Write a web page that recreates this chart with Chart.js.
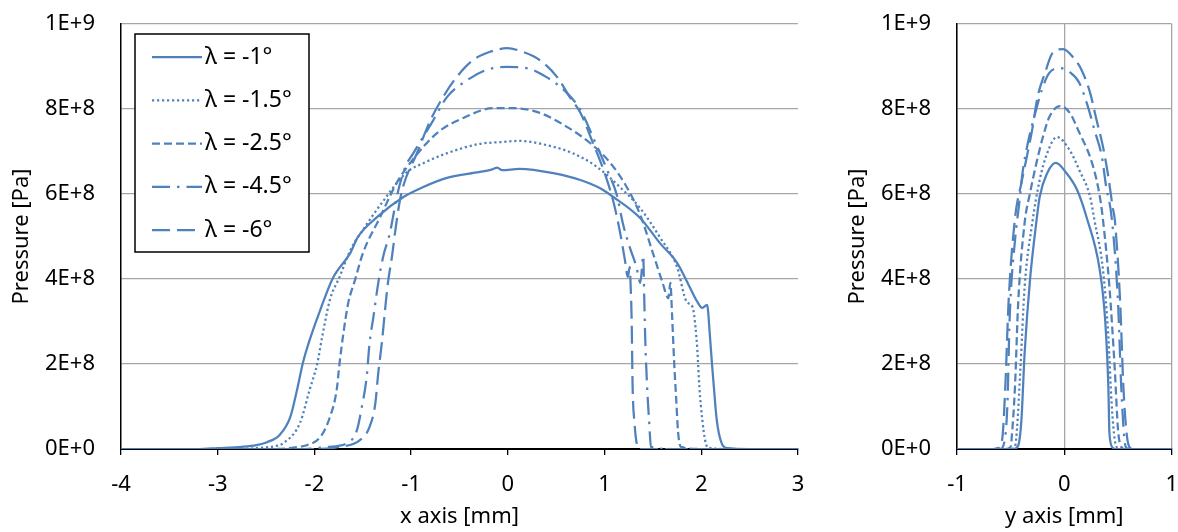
<!DOCTYPE html>
<html>
<head>
<meta charset="utf-8">
<script src="https://cdn.jsdelivr.net/npm/chart.js@4/dist/chart.umd.min.js"></script>
<style>
  body { margin: 0; background: #fff; }
  #wrap { position: relative; width: 1178px; height: 532px; }
  #left { position: absolute; left: 0; top: 0; }
  #right { position: absolute; left: 820px; top: 0; }
</style>
</head>
<body>
<div id="wrap">
  <canvas id="left" width="820" height="532"></canvas>
  <canvas id="right" width="358" height="532"></canvas>
</div>
<script>
// series names (legend)
var seriesNames = ['λ = -1°', 'λ = -1.5°', 'λ = -2.5°', 'λ = -4.5°', 'λ = -6°'];

// tick labels
var xTickLabels = ['-4', '-3', '-2', '-1', '0', '1', '2', '3'];
var yTickLabels = ['-1', '0', '1'];
var pTickLabels = ['0E+0', '2E+8', '4E+8', '6E+8', '8E+8', '1E+9'];

// pressure along x axis [mm] -> [Pa]
var xPos1 = [-4, -3.2, -3.0, -2.75, -2.6, -2.49, -2.36, -2.25, -2.18, -2.12, -2.05, -1.94, -1.81, -1.63, -1.55, -1.35, -1.08, -0.88, -0.63, -0.29, -0.16, -0.11, -0.06, 0.12, 0.47, 0.75, 0.95, 1.09, 1.37, 1.57, 1.75, 1.88, 1.96, 2.01, 2.06, 2.09, 2.11, 2.13, 2.16, 2.21, 2.27, 2.5, 3];
var xPres1 = [0, 0, 0.02e8, 0.05e8, 0.09e8, 0.16e8, 0.33e8, 0.75e8, 1.39e8, 2.02e8, 2.56e8, 3.27e8, 4.02e8, 4.61e8, 4.99e8, 5.46e8, 5.93e8, 6.16e8, 6.38e8, 6.52e8, 6.58e8, 6.62e8, 6.56e8, 6.59e8, 6.49e8, 6.33e8, 6.14e8, 5.93e8, 5.43e8, 4.85e8, 4.38e8, 3.81e8, 3.46e8, 3.32e8, 3.39e8, 2.64e8, 2.02e8, 1.46e8, 0.68e8, 0.14e8, 0.02e8, 0, 0];

var xPos2 = [-4, -2.8, -2.55, -2.4, -2.32, -2.15, -2.05, -1.97, -1.92, -1.84, -1.74, -1.62, -1.50, -1.30, -1.05, -0.85, -0.63, -0.29, -0.08, 0.12, 0.40, 0.67, 0.92, 1.16, 1.37, 1.57, 1.75, 1.85, 1.91, 1.94, 1.96, 1.98, 2.01, 2.04, 2.07, 2.3, 3];
var xPres2 = [0, 0, 0.03e8, 0.07e8, 0.14e8, 0.61e8, 1.39e8, 2.02e8, 2.64e8, 3.51e8, 4.05e8, 4.72e8, 5.15e8, 5.80e8, 6.50e8, 6.75e8, 6.96e8, 7.18e8, 7.22e8, 7.25e8, 7.15e8, 6.96e8, 6.64e8, 6.16e8, 5.66e8, 4.99e8, 4.28e8, 3.46e8, 3.34e8, 2.87e8, 2.30e8, 1.46e8, 0.70e8, 0.20e8, 0.03e8, 0, 0];

var xPos3 = [-4, -2.4, -2.2, -2.08, -1.94, -1.84, -1.77, -1.74, -1.70, -1.65, -1.58, -1.50, -1.32, -1.15, -1.01, -0.73, -0.46, -0.15, 0.05, 0.33, 0.61, 0.85, 1.06, 1.23, 1.37, 1.50, 1.60, 1.66, 1.68, 1.70, 1.72, 1.74, 1.76, 1.79, 2.0, 3];
var xPres3 = [0, 0, 0.04e8, 0.09e8, 0.28e8, 0.75e8, 1.39e8, 2.02e8, 2.73e8, 3.44e8, 3.98e8, 4.60e8, 5.46e8, 6.26e8, 6.73e8, 7.44e8, 7.79e8, 8.02e8, 8.02e8, 7.91e8, 7.58e8, 7.20e8, 6.73e8, 6.16e8, 5.50e8, 4.61e8, 3.91e8, 3.55e8, 3.91e8, 3.04e8, 2.02e8, 1.20e8, 0.40e8, 0.05e8, 0, 0];

var xPos4 = [-4, -2.1, -1.87, -1.66, -1.56, -1.51, -1.46, -1.43, -1.39, -1.34, -1.29, -1.22, -1.14, -1.06, -0.98, -0.77, -0.63, -0.42, -0.22, -0.01, 0.20, 0.40, 0.61, 0.75, 0.88, 1.02, 1.13, 1.19, 1.26, 1.33, 1.37, 1.40, 1.41, 1.42, 1.44, 1.46, 1.48, 1.7, 3];
var xPres4 = [0, 0, 0.05e8, 0.14e8, 0.45e8, 0.99e8, 1.69e8, 2.49e8, 3.11e8, 3.91e8, 4.52e8, 5.08e8, 6.02e8, 6.64e8, 6.95e8, 7.74e8, 8.28e8, 8.68e8, 8.92e8, 8.99e8, 8.96e8, 8.75e8, 8.38e8, 7.98e8, 7.34e8, 6.60e8, 5.95e8, 5.30e8, 4.75e8, 4.28e8, 3.91e8, 4.55e8, 3.58e8, 2.64e8, 1.46e8, 0.68e8, 0.05e8, 0, 0];

var xPos5 = [-4, -2.0, -1.74, -1.53, -1.43, -1.37, -1.34, -1.30, -1.27, -1.24, -1.20, -1.16, -1.12, -1.08, -0.94, -0.80, -0.67, -0.53, -0.36, -0.19, -0.01, 0.16, 0.33, 0.51, 0.64, 0.75, 0.88, 0.99, 1.09, 1.16, 1.21, 1.24, 1.26, 1.27, 1.28, 1.29, 1.31, 1.33, 1.36, 3];
var xPres5 = [0, 0, 0.05e8, 0.21e8, 0.52e8, 1.08e8, 1.79e8, 2.56e8, 3.27e8, 3.91e8, 4.50e8, 5.20e8, 5.80e8, 6.20e8, 6.96e8, 7.74e8, 8.28e8, 8.75e8, 9.15e8, 9.34e8, 9.43e8, 9.34e8, 9.15e8, 8.75e8, 8.28e8, 7.91e8, 7.20e8, 6.56e8, 5.83e8, 5.10e8, 4.45e8, 4.05e8, 4.28e8, 3.81e8, 3.04e8, 1.46e8, 0.60e8, 0.16e8, 0, 0];

// pressure along y axis [mm] -> [Pa]
var yPos1 = [-1, -0.47, -0.43, -0.40, -0.37, -0.32, -0.26, -0.23, -0.16, -0.08, 0.02, 0.12, 0.21, 0.33, 0.38, 0.41, 0.42, 0.45, 0.48, 1];
var yPres1 = [0, 0, 0.08e8, 0.68e8, 2.26e8, 3.98e8, 5.36e8, 5.93e8, 6.49e8, 6.73e8, 6.49e8, 6.09e8, 5.43e8, 4.21e8, 3.04e8, 1.46e8, 0.37e8, 0.03e8, 0, 0];

var yPos2 = [-1, -0.50, -0.46, -0.44, -0.41, -0.37, -0.30, -0.23, -0.16, -0.07, 0.05, 0.14, 0.24, 0.28, 0.36, 0.41, 0.44, 0.47, 0.50, 0.53, 1];
var yPres2 = [0, 0, 0.05e8, 0.52e8, 1.86e8, 3.81e8, 5.30e8, 6.33e8, 6.96e8, 7.34e8, 7.03e8, 6.56e8, 5.93e8, 5.39e8, 4.21e8, 2.64e8, 1.08e8, 0.21e8, 0.02e8, 0, 0];

var yPos3 = [-1, -0.55, -0.50, -0.49, -0.46, -0.43, -0.37, -0.32, -0.26, -0.20, -0.14, -0.04, 0.05, 0.14, 0.24, 0.30, 0.34, 0.36, 0.42, 0.47, 0.50, 0.53, 0.56, 1];
var yPres3 = [0, 0, 0.05e8, 0.28e8, 1.46e8, 3.44e8, 5.32e8, 6.02e8, 6.73e8, 7.34e8, 7.81e8, 8.07e8, 7.91e8, 7.44e8, 6.87e8, 6.33e8, 5.79e8, 5.39e8, 3.81e8, 1.86e8, 0.45e8, 0.05e8, 0, 0];

var yPos4 = [-1, -0.60, -0.56, -0.53, -0.51, -0.46, -0.42, -0.39, -0.34, -0.27, -0.21, -0.14, -0.04, 0.05, 0.14, 0.22, 0.28, 0.35, 0.39, 0.44, 0.50, 0.53, 0.56, 0.58, 0.61, 1];
var yPres4 = [0, 0, 0.15e8, 1.08e8, 3.04e8, 4.90e8, 5.79e8, 6.49e8, 7.20e8, 7.91e8, 8.45e8, 8.85e8, 8.96e8, 8.87e8, 8.61e8, 8.05e8, 7.51e8, 6.87e8, 6.16e8, 5.46e8, 3.44e8, 1.46e8, 0.21e8, 0.02e8, 0, 0];

var yPos5 = [-1, -0.66, -0.62, -0.58, -0.55, -0.52, -0.46, -0.40, -0.35, -0.30, -0.25, -0.18, -0.11, -0.01, 0.08, 0.16, 0.24, 0.30, 0.36, 0.41, 0.45, 0.47, 0.52, 0.55, 0.58, 0.61, 0.64, 1];
var yPres5 = [0, 0, 0.02e8, 0.21e8, 1.46e8, 3.44e8, 5.42e8, 6.26e8, 6.87e8, 7.51e8, 8.28e8, 8.85e8, 9.32e8, 9.41e8, 9.22e8, 8.92e8, 8.38e8, 7.74e8, 7.11e8, 6.40e8, 5.69e8, 5.39e8, 3.44e8, 1.46e8, 0.37e8, 0.03e8, 0, 0];

var lineColor = '#4f81bd';
var gridColor = '#a6a6a6';
// solid, round dot, dash, long dash dot, long dash
var dashes = [[], [2.2, 2.8], [8, 4], [18, 7, 2.5, 7], [18, 7]];

Chart.defaults.font.family = "'Noto Sans', sans-serif";
Chart.defaults.font.size = 22;
Chart.defaults.color = '#000';

function toPoints(xs, ys) {
    var pts = [];
    for (var i = 0; i < xs.length; i++) {
        pts.push({ x: xs[i], y: ys[i] });
    }
    return pts;
}

function makeDatasets(posArrays, presArrays) {
    var sets = [];
    for (var i = 0; i < posArrays.length; i++) {
        sets.push({
            label: seriesNames[i],
            data: toPoints(posArrays[i], presArrays[i]),
            showLine: true,
            borderColor: lineColor,
            borderWidth: 2.25,
            borderDash: dashes[i],
            pointRadius: 0,
            cubicInterpolationMode: 'monotone',
            fill: false
        });
    }
    return sets;
}

// legend drawn inside the plot area, with a black frame
var frameLegend = {
    id: 'frameLegend',
    afterDatasetsDraw: function (chart) {
        var ctx = chart.ctx;
        var a = chart.chartArea;
        var bx = a.left + 14, by = a.top + 10, bw = 174, bh = 218;
        ctx.save();
        ctx.fillStyle = '#fff';
        ctx.fillRect(bx, by, bw, bh);
        ctx.strokeStyle = '#000';
        ctx.lineWidth = 1.5;
        ctx.strokeRect(bx, by, bw, bh);
        ctx.font = "23px 'Noto Sans'";
        ctx.textBaseline = 'middle';
        chart.data.datasets.forEach(function (ds, i) {
            var y = by + 23 + i * 43.3;
            ctx.strokeStyle = ds.borderColor;
            ctx.lineWidth = ds.borderWidth;
            ctx.setLineDash(ds.borderDash);
            ctx.beginPath();
            ctx.moveTo(bx + 17, y);
            ctx.lineTo(bx + 67, y);
            ctx.stroke();
            ctx.setLineDash([]);
            ctx.fillStyle = '#000';
            ctx.fillText(ds.label, bx + 70, y);
        });
        ctx.restore();
    }
};

function pressureAxis() {
    return {
        type: 'linear',
        min: 0,
        max: 1e9,
        ticks: {
            stepSize: 2e8,
            padding: 0,
            callback: function (value, index) { return pTickLabels[index]; }
        },
        // invisible tick marks keep the labels away from the axis line
        grid: { color: gridColor, lineWidth: 1.3, drawTicks: true, tickLength: 26, tickColor: 'rgba(0,0,0,0)' },
        border: { color: '#000', width: 1.5 },
        title: { display: true, text: 'Pressure [Pa]', padding: { top: 9, bottom: 9 } },
        afterFit: function (scale) { scale.width = 121; }
    };
}

function posAxis(min, max, labels, title, gridOnArea) {
    return {
        type: 'linear',
        min: min,
        max: max,
        ticks: {
            stepSize: 1,
            padding: 0,
            maxRotation: 0,
            font: { size: 22, lineHeight: 2.72 },
            callback: function (value, index) { return labels[index]; }
        },
        grid: { drawOnChartArea: gridOnArea, color: gridOnArea ? gridColor : '#000', lineWidth: 1.3, tickLength: 6, tickColor: '#000' },
        border: { color: '#000', width: 2 },
        title: { display: true, text: title, padding: { top: 2, bottom: 2 } },
        afterFit: function (scale) { scale.height = 83; }
    };
}

var leftChart = new Chart(document.getElementById('left'), {
    type: 'scatter',
    data: { datasets: makeDatasets([xPos1, xPos2, xPos3, xPos4, xPos5], [xPres1, xPres2, xPres3, xPres4, xPres5]) },
    options: {
        responsive: false,
        animation: false,
        layout: { padding: { left: 0, right: 22, top: 24, bottom: 0 } },
        plugins: { legend: { display: false }, tooltip: { enabled: false } },
        scales: {
            x: posAxis(-4, 3, xTickLabels, 'x axis [mm]', false),
            y: pressureAxis()
        }
    },
    plugins: [frameLegend]
});

var rightChart = new Chart(document.getElementById('right'), {
    type: 'scatter',
    data: { datasets: makeDatasets([yPos1, yPos2, yPos3, yPos4, yPos5], [yPres1, yPres2, yPres3, yPres4, yPres5]) },
    options: {
        responsive: false,
        animation: false,
        layout: { padding: { left: 16, right: 6, top: 24, bottom: 0 } },
        plugins: { legend: { display: false }, tooltip: { enabled: false } },
        scales: {
            x: posAxis(-1, 1, yTickLabels, 'y axis [mm]', true),
            y: pressureAxis()
        }
    }
});
</script>
</body>
</html>
